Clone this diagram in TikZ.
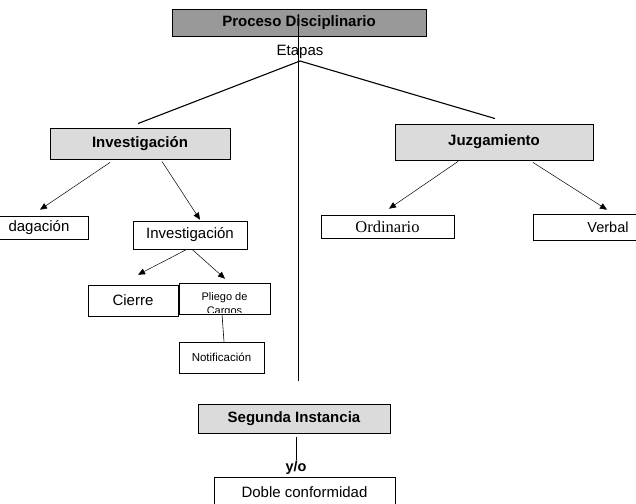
\documentclass[tikz,border=0pt]{standalone}
\usepackage{fontspec}
\setmainfont{Liberation Sans}
\newfontfamily\timesfont{Liberation Serif}
\usetikzlibrary{arrows.meta}

\begin{document}
\begin{tikzpicture}[x=1pt, y=-1pt, line width=0.6pt,
    caja/.style={draw, inner sep=0pt, font=\fontsize{15}{18}\selectfont},
    titulo/.style={caja, fill=black!14, line width=0.9pt, font=\fontsize{15}{18}\selectfont\bfseries},
    flecha/.style={-{Triangle[length=7pt, width=6pt]}, line width=0.5pt}]
    \useasboundingbox (0,0) rectangle (636,503);
    % cabecera
    \node[titulo, fill=black!40, minimum width=254pt, minimum height=27pt] (proceso) at (299,22.5) {Proceso Disciplinario};
    \node[font=\fontsize{15}{18}\selectfont] (etapas) at (300,52) {Etapas};
    \coordinate (arriba) at (298,14);
    \coordinate (abajo) at (298,381);
    \coordinate (ramal) at (300,61);
    \draw (arriba) -- (abajo);
    % primer nivel
    \node[titulo, minimum width=180pt, minimum height=31pt] (inv) at (140,143.5) {Investigación};
    \node[titulo, minimum width=198pt, minimum height=36pt] (juz) at (494,142) {Juzgamiento};
    \draw[line width=1.1pt] (ramal) -- ([xshift=-2pt, yshift=4pt]inv.north);
    \draw[line width=1.1pt] (ramal) -- ([xshift=1pt, yshift=5pt]juz.north);
    % investigacion
    \node[caja, minimum width=98pt, minimum height=23pt] (indag) at (39,227.5) {dagación};
    \node[caja, minimum width=114pt, minimum height=28pt] (inv2) at (190,235) {Investigación};
    \draw[flecha] ([xshift=-30pt, yshift=-3pt]inv.south) -- ([xshift=1pt, yshift=6pt]indag.north);
    \draw[flecha] ([xshift=22pt, yshift=-2pt]inv.south) -- ([xshift=10pt, yshift=1pt]inv2.north);
    \node[caja, minimum width=90pt, minimum height=31pt] (cierre) at (133,300.5) {Cierre};
    \node[caja, minimum width=91pt, minimum height=31pt] (pliego) at (224.5,298.5) {};
    \begin{scope}
        \clip ([yshift=1.5pt]pliego.south west) rectangle (pliego.north east);
        \node[font=\fontsize{11}{13}\selectfont, anchor=base] (pliego1) at (224.5,300.7) {Pliego de};
        \node[font=\fontsize{11}{13}\selectfont, anchor=base] (pliego2) at (224.5,314.7) {Cargos};
    \end{scope}
    \draw[flecha] ([xshift=-3pt]inv2.south) -- ([xshift=5pt, yshift=10pt]cierre.north);
    \draw[flecha] ([xshift=2pt]inv2.south) -- ([xshift=0.5pt, yshift=4pt]pliego.north);
    \node[caja, minimum width=85pt, minimum height=31pt, font=\fontsize{11.5}{13}\selectfont] (notif) at (221.5,357.5) {Notificación};
    \draw ([xshift=-2.5pt]pliego.south) -- ([xshift=2.5pt]notif.north);
    % juzgamiento
    \node[caja, minimum width=133pt, minimum height=23pt, font=\fontsize{16.5}{18}\timesfont] (ordin) at (387.5,226.5) {Ordinario};
    \node[caja, minimum width=150pt, minimum height=26pt, font=\fontsize{14.5}{17}\selectfont] (verbal) at (608,227) {Verbal};
    \draw[flecha] ([xshift=-36pt, yshift=-1pt]juz.south) -- ([xshift=1.5pt, yshift=6pt]ordin.north);
    \draw[flecha] ([xshift=39pt, yshift=-2pt]juz.south) -- ([xshift=-1pt, yshift=4pt]verbal.north);
    % segunda instancia
    \node[titulo, minimum width=192pt, minimum height=29pt] (segunda) at (294,418.5) {Segunda Instancia};
    \node[font=\fontsize{14.5}{17}\selectfont\bfseries, inner sep=1pt] (yo) at (296,468) {y/o};
    \draw[line width=0.8pt] ([xshift=2pt, yshift=-4pt]segunda.south) -- (yo.north);
    \node[caja, minimum width=181pt, minimum height=30pt] (doble) at (304.5,492) {Doble conformidad};
\end{tikzpicture}
\end{document}
